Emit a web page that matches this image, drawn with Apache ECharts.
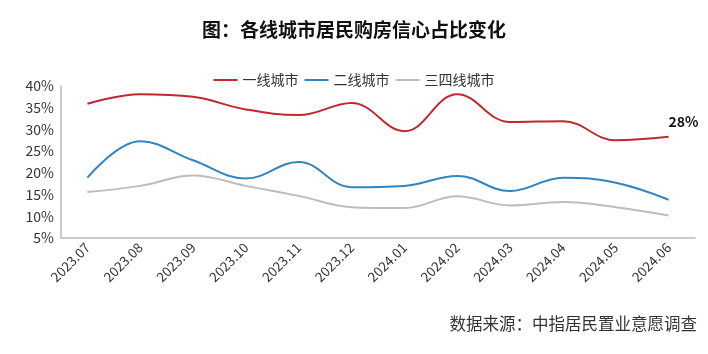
<!DOCTYPE html>
<html>
<head>
<meta charset="utf-8">
<script src="https://cdn.jsdelivr.net/npm/echarts@6/dist/echarts.min.js"></script>
<style>
  html, body { margin: 0; padding: 0; background: #fff; }
  #main { width: 708px; height: 354px; }
</style>
</head>
<body>
<div id="main"></div>
<script>
var months = ['2023.07', '2023.08', '2023.09', '2023.10', '2023.11', '2023.12',
  '2024.01', '2024.02', '2024.03', '2024.04', '2024.05', '2024.06']
var tier1 = [35.9, 38.1, 37.5, 34.6, 33.3, 36.1, 29.6, 38.1, 31.7, 31.9, 27.5, 28.3]
var tier2 = [18.9, 27.3, 22.9, 18.7, 22.5, 16.7, 17.0, 19.3, 15.8, 18.9, 17.7, 13.8]
var tier34 = [15.6, 17.0, 19.4, 17.0, 14.7, 12.1, 11.9, 14.6, 12.5, 13.3, 12.1, 10.2]

var font = '"Noto Sans CJK SC", sans-serif'
var myChart = echarts.init(document.getElementById('main'))

myChart.setOption({
  animation: false,
  title: {
    text: '图：各线城市居民购房信心占比变化',
    left: 'center',
    top: 15,
    textStyle: { fontFamily: font, fontSize: 19, fontWeight: 'bold', color: '#111' }
  },
  legend: {
    data: ['一线城市', '二线城市', '三四线城市'],
    top: 68,
    left: 'center',
    itemWidth: 24,
    itemHeight: 2,
    itemGap: 6,
    icon: 'rect',
    textStyle: { fontFamily: font, fontSize: 14, color: '#333' }
  },
  graphic: [{
    type: 'text',
    right: 11,
    top: 315,
    style: { text: '数据来源：中指居民置业意愿调查', font: '16.5px ' + font, fill: '#333' }
  }],
  grid: { left: 61, right: 13, top: 86, bottom: 116 },
  xAxis: {
    type: 'category',
    data: months,
    axisLine: { lineStyle: { color: '#bbb', width: 1.5 } },
    axisTick: { lineStyle: { color: '#bbb' } },
    axisLabel: { rotate: 45, interval: 0, fontFamily: font, fontSize: 13.5, color: '#333', margin: 7 }
  },
  yAxis: {
    type: 'value',
    min: 5,
    max: 40,
    interval: 5,
    axisLine: { show: true, lineStyle: { color: '#bbb', width: 1.5 } },
    axisTick: { show: false },
    splitLine: { show: false },
    axisLabel: { formatter: '{value}%', fontFamily: font, fontSize: 14, color: '#333', margin: 7 }
  },
  series: [
    {
      name: '一线城市', type: 'line', smooth: 0.4, symbol: 'none',
      color: '#C0282E', lineStyle: { width: 2 }, data: tier1,
      endLabel: {
        show: true,
        distance: 0,
        offset: [0, -15],
        formatter: function (p) { return Math.round(p.value) + '%' },
        fontFamily: font,
        fontSize: 14,
        fontWeight: 'bold',
        color: '#111'
      }
    },
    {
      name: '二线城市', type: 'line', smooth: 0.4, symbol: 'none',
      color: '#2E86C1', lineStyle: { width: 2 }, data: tier2
    },
    {
      name: '三四线城市', type: 'line', smooth: 0.4, symbol: 'none',
      color: '#BDBDBD', lineStyle: { width: 2 }, data: tier34
    }
  ]
})
</script>
</body>
</html>
